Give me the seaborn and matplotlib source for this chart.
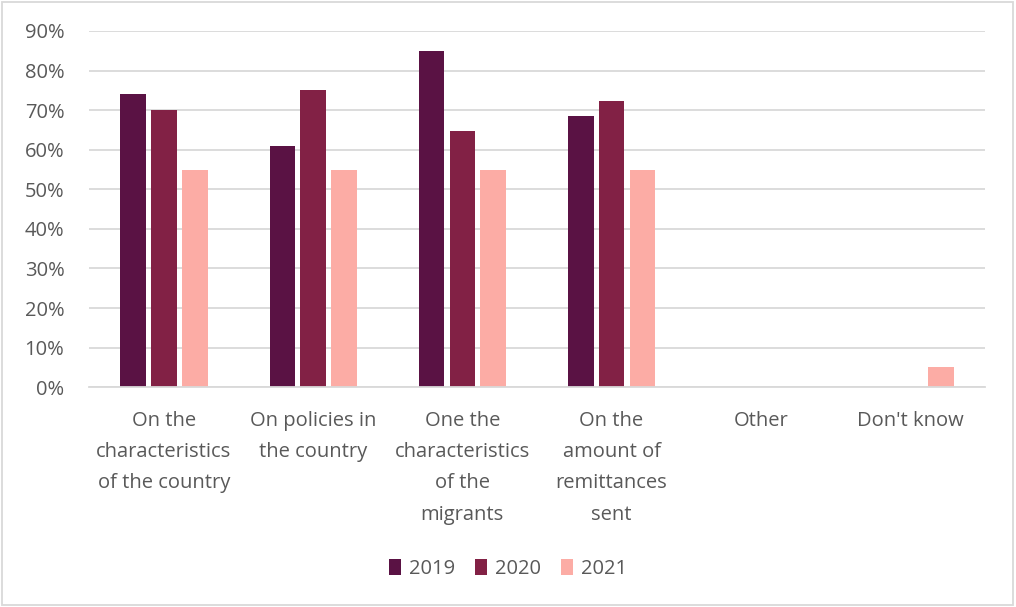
import matplotlib.pyplot as plt
import pandas as pd
import seaborn as sns
from matplotlib.patches import Rectangle
from matplotlib.ticker import PercentFormatter

categories = [
    "On the\ncharacteristics\nof the country",
    "On policies in\nthe country",
    "One the\ncharacteristics\nof the\nmigrants",
    "On the\namount of\nremittances\nsent",
    "Other",
    "Don't know",
]
years = ["2019", "2020", "2021"]
values_2019 = [74, 61, 85, 68.5, 0, 0]
values_2020 = [70, 75, 64.7, 72.3, 0, 0]
values_2021 = [55, 55, 55, 55, 0, 5]
colors = ["#5a1244", "#822145", "#fcaca5"]


def main() -> None:
    rows = []
    for year, vals in zip(years, [values_2019, values_2020, values_2021]):
        for cat, v in zip(categories, vals):
            rows.append({"category": cat, "year": year, "value": v})
    df = pd.DataFrame(rows)

    sns.set_theme(style="white")
    plt.rcParams["font.family"] = ["Open Sans", "DejaVu Sans"]

    fig, ax = plt.subplots(figsize=(10.16, 6.07), dpi=100)
    fig.subplots_adjust(left=0.088, right=0.969, top=0.949, bottom=0.362)

    sns.barplot(
        data=df,
        x="category",
        y="value",
        hue="year",
        palette=colors,
        saturation=1,
        width=0.62,
        gap=0.17,
        linewidth=0,
        ax=ax,
    )

    ax.set_ylim(0, 90)
    ax.set_yticks(range(0, 91, 10))
    ax.yaxis.set_major_formatter(PercentFormatter(decimals=0))
    ax.grid(axis="y", color="#d9d9d9", linewidth=1.3)
    ax.set_axisbelow(True)
    for side in ["top", "right", "left"]:
        ax.spines[side].set_visible(False)
    ax.spines["bottom"].set_color("#d9d9d9")
    ax.spines["bottom"].set_linewidth(1.3)
    ax.set_xlabel("")
    ax.set_ylabel("")
    ax.tick_params(axis="both", length=0, colors="#595959", labelsize=14.5)
    ax.tick_params(axis="x", pad=17)
    ax.tick_params(axis="y", pad=18)
    for lbl in ax.get_xticklabels():
        lbl.set_linespacing(1.75)

    handles, labels = ax.get_legend_handles_labels()
    ax.legend(
        handles,
        labels,
        loc="center",
        bbox_to_anchor=(0.5, 0.063),
        bbox_transform=fig.transFigure,
        ncol=3,
        frameon=False,
        fontsize=14.5,
        labelcolor="#595959",
        handlelength=0.6,
        handleheight=0.9,
        handletextpad=0.4,
        columnspacing=1.0,
    )

    fig.patches.append(
        Rectangle((0.002, 0.003), 0.995, 0.993, transform=fig.transFigure,
                  fill=False, edgecolor="#d9d9d9", linewidth=1.3)
    )

    fig.savefig("out.png", dpi=100)
    plt.close(fig)


if __name__ == "__main__":
    main()
